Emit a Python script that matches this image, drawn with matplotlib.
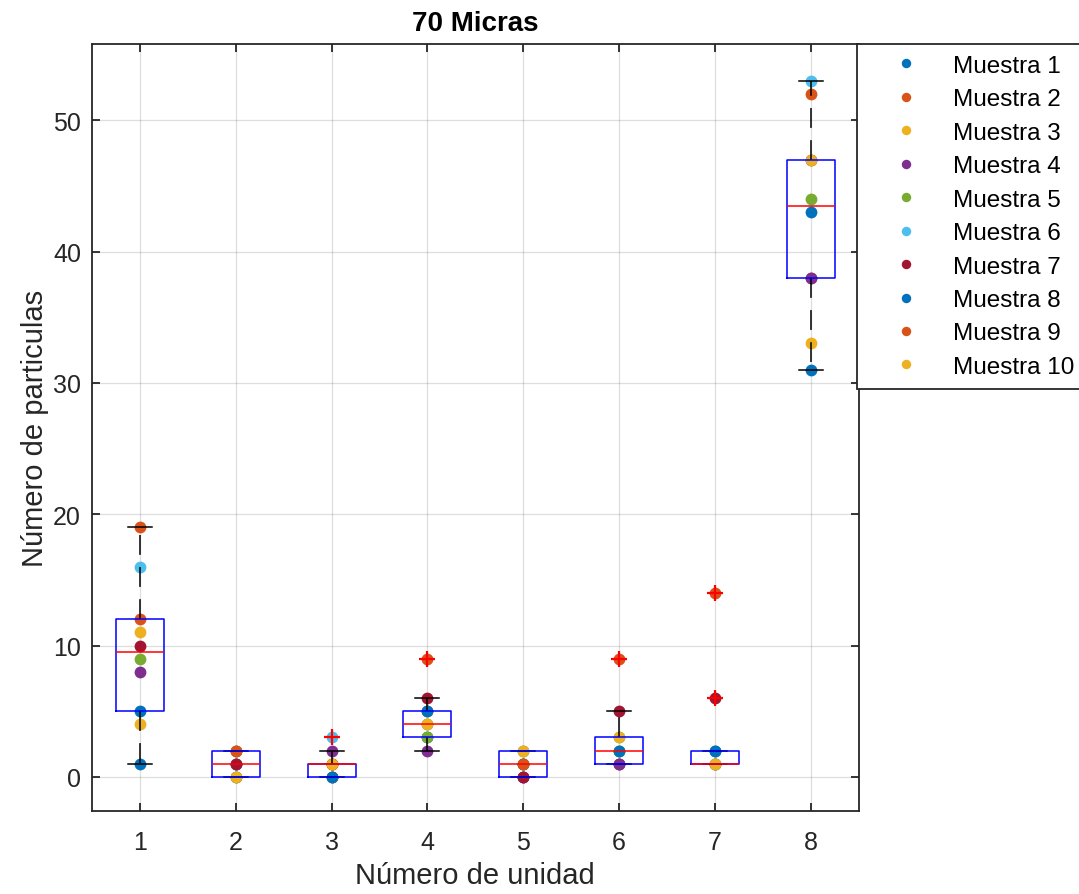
import numpy as np
import matplotlib
matplotlib.use('Agg')
import matplotlib.pyplot as plt

plt.rcParams['font.family'] = ['Liberation Sans', 'DejaVu Sans']

units = [1, 2, 3, 4, 5, 6, 7, 8]
sample_names = ['Muestra %d' % i for i in range(1, 11)]

# particles counted per unit, one list per sample
muestra_1 = [5, 1, 0, 3, 0, 1, 2, 31]
muestra_2 = [19, 2, 0, 5, 1, 1, 1, 38]
muestra_3 = [11, 0, 1, 4, 2, 2, 1, 33]
muestra_4 = [8, 1, 2, 2, 0, 1, 1, 38]
muestra_5 = [9, 2, 1, 3, 1, 2, 1, 44]
muestra_6 = [16, 1, 3, 4, 2, 3, 1, 53]
muestra_7 = [10, 1, 1, 6, 0, 5, 6, 47]
muestra_8 = [1, 0, 0, 5, 1, 2, 2, 43]
muestra_9 = [12, 2, 1, 9, 1, 9, 14, 52]
muestra_10 = [4, 0, 1, 4, 2, 3, 1, 47]

samples = [muestra_1, muestra_2, muestra_3, muestra_4, muestra_5,
           muestra_6, muestra_7, muestra_8, muestra_9, muestra_10]

colors = ['#0072BD', '#D95319', '#EDB120', '#7E2F8E', '#77AC30',
          '#4DBEEE', '#A2142F', '#0072BD', '#D95319', '#EDB120']


def matlab_stats(x):
    # quartiles the way MATLAB's boxplot computes them
    x = np.sort(np.asarray(x, dtype=float))
    q1, med, q3 = np.percentile(x, [25, 50, 75], method='hazen')
    iqr = q3 - q1
    lo, hi = q1 - 1.5 * iqr, q3 + 1.5 * iqr
    inside = x[(x >= lo) & (x <= hi)]
    return dict(med=med, q1=q1, q3=q3, whislo=inside.min(), whishi=inside.max(),
                fliers=x[(x < lo) | (x > hi)])


data = np.array(samples)
stats = [matlab_stats(data[:, j]) for j in range(len(units))]

fig = plt.figure(figsize=(10.79, 8.95), dpi=100)
ax = fig.add_axes([0.0853, 0.0927, 0.7104, 0.857])

for vals, c, name in zip(samples, colors, sample_names):
    ax.plot(units, vals, 'o', color=c, markersize=8.5, markeredgewidth=0,
            label=name, zorder=2)

ax.bxp(stats, positions=units, widths=0.5, capwidths=0.25, manage_ticks=False,
       boxprops=dict(color='#0000FF', linewidth=1.1, zorder=4),
       medianprops=dict(color='#FF0000', linewidth=1.1, zorder=5),
       whiskerprops=dict(color='black', linewidth=1.1, linestyle=(0, (13, 8)), zorder=3),
       capprops=dict(color='black', linewidth=1.1, zorder=3),
       flierprops=dict(marker='+', markeredgecolor='#FF0000', markersize=11,
                       markeredgewidth=1.6, zorder=5))

ax.set_xlim(0.5, 8.5)
ax.set_ylim(-2.6, 55.8)
ax.set_xticks(units)
ax.set_yticks([0, 10, 20, 30, 40, 50])
ax.grid(True, color='#262626', alpha=0.15, linewidth=0.9)
ax.set_axisbelow(True)
ax.tick_params(direction='in', length=6, width=1.3, top=True, right=True,
               labelsize=18, colors='#262626')
ax.tick_params(axis='x', pad=14)
ax.tick_params(axis='y', pad=8)
for sp in ax.spines.values():
    sp.set_color('#262626')
    sp.set_linewidth(1.3)

ax.set_title('70 Micras', fontsize=20, fontweight='bold', pad=10)
ax.set_xlabel('Número de unidad', fontsize=21, color='#262626', labelpad=5)
ax.set_ylabel('Número de particulas', fontsize=21, color='#262626', labelpad=3)

leg = fig.legend(loc='upper left', bbox_to_anchor=(0.7945, 0.9497),
                 bbox_transform=fig.transFigure, fontsize=17.5, frameon=True,
                 fancybox=False, borderaxespad=0, borderpad=0.45,
                 handlelength=3.1, handletextpad=0.4, labelspacing=0.47,
                 markerscale=0.8)
leg.get_frame().set_edgecolor('#262626')
leg.get_frame().set_linewidth(1.3)
leg.get_frame().set_alpha(1)

fig.savefig('out.png', dpi=100)
